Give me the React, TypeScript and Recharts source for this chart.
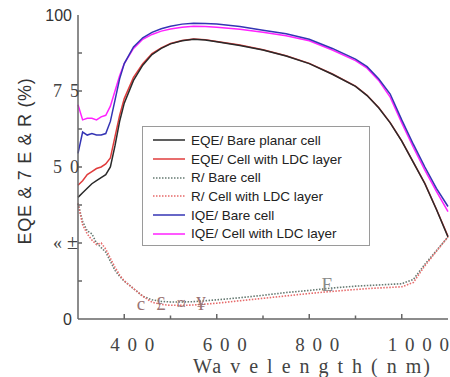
import { LineChart, Line, XAxis, YAxis, Legend, ReferenceDot } from "recharts";

// wavelength grid (nm) and curves (%)
const wavelengths = [300, 310, 320, 330, 340, 350, 360, 370, 380, 390, 400, 420, 440, 460, 480, 500, 525, 550, 575, 600, 650, 700, 750, 800, 850, 900, 925, 950, 975, 1000, 1025, 1050, 1075, 1100];
const eqeBare = [40, 41.5, 43, 44.5, 45.5, 46.5, 47.5, 50, 57, 65, 71, 78.5, 83.5, 87, 89, 90.5, 91.5, 92, 91.8, 91.2, 90, 88.5, 86.5, 84, 80.5, 76.5, 73.5, 69.5, 64.5, 58.5, 51.5, 44.5, 36, 27];
const eqeLdc = [44, 45.5, 47.5, 48.5, 49.5, 50, 51, 53, 60, 67, 72.5, 79.5, 84, 87.3, 89.2, 90.6, 91.6, 92.1, 91.9, 91.3, 90.1, 88.6, 86.6, 84.1, 80.6, 76.6, 73.6, 69.6, 64.6, 58.6, 51.6, 44.6, 36.1, 27.2];
const rBare = [38, 32, 29, 28, 25, 23.5, 22, 19, 16, 14, 12.5, 10, 7.5, 6.3, 5.8, 5.6, 5.6, 5.7, 6, 6.3, 7, 7.8, 8.7, 9.4, 10.2, 10.8, 11, 11.2, 11.4, 11.6, 13, 18, 22.5, 27];
const rLdc = [38, 31, 28, 26, 24.5, 25, 23, 20, 17, 14.5, 12.5, 10, 7.5, 5.5, 4.8, 4.5, 4.5, 4.6, 4.9, 5.2, 6, 6.8, 7.6, 8.4, 9.1, 9.7, 10, 10.2, 10.4, 10.6, 12, 17.5, 22.3, 27];
const iqeBare = [54.5, 61.5, 60.5, 61, 60.5, 60.5, 61, 65, 72, 79, 84, 89.5, 92.5, 94.3, 95.5, 96.3, 97, 97.3, 97.2, 97, 96.2, 95, 93.8, 92, 89, 85.5, 83, 79, 74, 65.5, 57.5, 50, 43, 37];
const iqeLdc = [70.5, 65.5, 66, 66, 65.5, 66.5, 67, 70, 75, 80, 84, 89, 92, 93.6, 94.7, 95.4, 96, 96.3, 96.2, 96, 95.3, 94.3, 93.2, 91.5, 88.5, 85, 82.5, 78.5, 73, 64.5, 56.5, 49, 42, 35.3];

const xTicks = [400, 500, 600, 700, 800, 900, 1000];
const xTickLabels = ["4 0 0", "", "6 0 0", "", "8 0 0", "", "1 0 0 0"];
const yTicks = [0, 12.5, 25, 37.5, 50, 62.5, 75, 87.5, 100];
const yTickLabels = ["0", "", "« ±", "", "5 0", "", "7 5", "", "100"];

// stray glyphs printed inside the plot
const strayMarks = [
  { x: 436, y: 5.3, text: "c", color: "#9a7474" },
  { x: 479, y: 5.3, text: "£", color: "#9a7474" },
  { x: 523, y: 5.3, text: "¤", color: "#9a7474" },
  { x: 566, y: 5.3, text: "¥", color: "#9a7474" },
  { x: 839, y: 11.5, text: "E", color: "#8a8a8a" },
];

const data = wavelengths.map((wl, i) => ({
  wl,
  eqeBare: eqeBare[i],
  eqeLdc: eqeLdc[i],
  rBare: rBare[i],
  rLdc: rLdc[i],
  iqeBare: iqeBare[i],
  iqeLdc: iqeLdc[i],
}));

const series = [
  { key: "eqeBare", name: "EQE/ Bare planar cell", color: "#2a2a2a", dash: undefined },
  { key: "eqeLdc", name: "EQE/ Cell with LDC layer", color: "#e03c3c", dash: undefined },
  { key: "rBare", name: "R/ Bare cell", color: "#667a72", dash: "1.5 1.5" },
  { key: "rLdc", name: "R/ Cell with LDC layer", color: "#e66a6a", dash: "1.5 1.5" },
  { key: "iqeBare", name: "IQE/ Bare cell", color: "#3434b4", dash: undefined },
  { key: "iqeLdc", name: "IQE/ Cell with LDC layer", color: "#ff22ff", dash: undefined },
];
// draw order: red under black, pink under blue
const drawOrder = ["rBare", "rLdc", "eqeLdc", "eqeBare", "iqeLdc", "iqeBare"];

const FRAME = "#666";
const serif = "'Liberation Serif', 'DejaVu Serif', serif";
const sans = "'Liberation Sans', Arial, sans-serif";

function XTick({ x, y, payload }: any) {
  const label = xTickLabels[xTicks.indexOf(payload.value)] ?? "";
  return (
    <g>
      <line x1={x} y1={y} x2={x} y2={y - (label ? 5 : 3.5)} stroke={FRAME} strokeWidth={1.5} />
      {label && (
        <text x={x - 14} y={y + 32} fontFamily={serif} fontSize={19} letterSpacing={1.5} fill="#444">
          {label}
        </text>
      )}
    </g>
  );
}

function YTick({ x, y, payload }: any) {
  const label = yTickLabels[yTicks.indexOf(payload.value)] ?? "";
  const plain = label === "0" || label === "100";
  const glyphs = label.split(" ");
  return (
    <g>
      {payload.value > 0 && payload.value < 100 && (
        <line x1={x} y1={y} x2={x + 4} y2={y} stroke={FRAME} strokeWidth={1.5} />
      )}
      {label && plain && (
        <text x={x - 6} y={y + 6} textAnchor="end" fontFamily={sans} fontSize={16} fill="#333">
          {label}
        </text>
      )}
      {label && !plain && (
        <text y={y + 6} fontFamily={serif} fontSize={18} fill="#444">
          <tspan x={x - 25}>{glyphs[0]}</tspan>
          <tspan x={x - (glyphs[1] === "±" ? 11 : 8)} fontSize={glyphs[1] === "±" ? 20 : 18}>{glyphs[1]}</tspan>
        </text>
      )}
    </g>
  );
}

function XLabel({ viewBox }: any) {
  return (
    <text x={viewBox.x + 115} y={viewBox.y + 54} fontFamily={serif} fontSize={20} fill="#444"
      textLength={237} lengthAdjust="spacing">
      Wa v e l  e n g t  h ( n m)
    </text>
  );
}

function YLabel() {
  return (
    <text x={25} y={161} transform="rotate(-90, 25, 161)" textAnchor="middle" dominantBaseline="central"
      fontFamily={sans} fontSize={18} letterSpacing={0.7} fill="#333">
      EQE &amp; 7 E &amp; R (%)
    </text>
  );
}

function LegendBox() {
  return (
    <div style={{ border: "1px solid #9a9a9a", background: "#fff", padding: "4px 0 2px", width: 226 }}>
      {series.map((s) => (
        <div key={s.key} style={{ display: "flex", alignItems: "center", height: 18.7 }}>
          <svg width={48} height={6} style={{ flex: "none" }}>
            <line x1={10} y1={3} x2={42} y2={3} stroke={s.color} strokeWidth={1.5} strokeDasharray={s.dash} />
          </svg>
          <span style={{ fontFamily: sans, fontSize: 13.5, color: "#222", whiteSpace: "nowrap" }}>{s.name}</span>
        </div>
      ))}
    </div>
  );
}

export default function App() {
  return (
    <div style={{ position: "absolute", left: 0, top: 0, background: "#fff" }}>
      <LineChart width={450} height={377} data={data} margin={{ top: 15, right: 2, bottom: 0, left: 0 }}>
        <XAxis dataKey="wl" type="number" domain={[300, 1100]} ticks={xTicks} interval={0}
          height={58} tickSize={0} tickMargin={0} tickLine={false} tick={<XTick />}
          axisLine={{ stroke: FRAME, strokeWidth: 1.5 }} label={<XLabel />} />
        <XAxis xAxisId="top" orientation="top" type="number" domain={[300, 1100]} height={0}
          tick={false} tickLine={false} axisLine={{ stroke: FRAME, strokeWidth: 1.5 }} />
        <YAxis type="number" domain={[0, 100]} ticks={yTicks} interval={0} width={78}
          tickSize={0} tickMargin={0} tickLine={false} tick={<YTick />}
          axisLine={{ stroke: FRAME, strokeWidth: 1.5 }} label={<YLabel />} />
        <YAxis yAxisId="right" orientation="right" domain={[0, 100]} width={0}
          tick={false} tickLine={false} axisLine={{ stroke: FRAME, strokeWidth: 1.5 }} />
        {drawOrder.map((k) => {
          const s = series.find((d) => d.key === k)!;
          return (
            <Line key={k} type="linear" dataKey={k} name={s.name} stroke={s.color}
              strokeWidth={s.dash ? 1.6 : 1.5} strokeDasharray={s.dash} dot={false}
              activeDot={false} isAnimationActive={false} />
          );
        })}
        {strayMarks.map((m) => (
          <ReferenceDot key={m.text} x={m.x} y={m.y} r={0} fill="none" stroke="none"
            label={{ value: m.text, position: "center", fill: m.color, fontSize: 19, fontFamily: serif }} />
        ))}
        <Legend layout="vertical" align="center" verticalAlign="middle"
          wrapperStyle={{ left: 142, top: 126, width: 228 }} content={() => <LegendBox />} />
      </LineChart>
    </div>
  );
}
